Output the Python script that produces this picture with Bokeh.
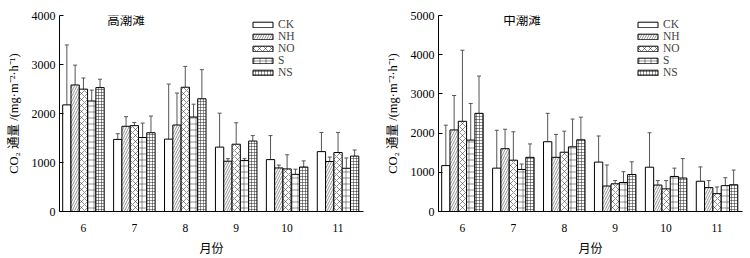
from bokeh.plotting import figure
from bokeh.models import Range1d, FixedTicker, ColumnDataSource, Whisker, TeeHead, Legend, LegendItem
from bokeh.core.properties import value
from bokeh.layouts import row
from bokeh.embed import file_html
from bokeh.resources import INLINE

months = ["6", "7", "8", "9", "10", "11"]
treatments = ["CK", "NH", "NO", "S", "NS"]

# 高潮滩 (high tidal flat): means and SD
high_CK = [2176, 1471, 1477, 1314, 1059, 1222]
high_CK_sd = [1223, 117, 1124, 693, 490, 392]
high_NH = [2582, 1739, 1765, 1026, 889, 1020]
high_NH_sd = [405, 196, 653, 52, 59, 91]
high_NO = [2497, 1752, 2536, 1373, 869, 1203]
high_NO_sd = [228, 65, 425, 437, 288, 411]
high_S = [2255, 1510, 1928, 1039, 758, 882]
high_S_sd = [222, 294, 262, 39, 105, 210]
high_NS = [2529, 1608, 2301, 1438, 908, 1131]
high_NS_sd = [170, 340, 594, 111, 125, 124]

# 中潮滩 (middle tidal flat): means and SD
mid_CK = [1171, 1106, 1780, 1260, 1130, 772]
mid_CK_sd = [1032, 967, 724, 667, 878, 366]
mid_NH = [2081, 1602, 1382, 650, 675, 610]
mid_NH_sd = [878, 496, 585, 537, 114, 179]
mid_NO = [2301, 1309, 1512, 707, 577, 455]
mid_NO_sd = [1813, 724, 537, 82, 212, 171]
mid_S = [1821, 1073, 1650, 740, 894, 659]
mid_S_sd = [935, 138, 708, 276, 212, 203]
mid_NS = [2504, 1382, 1829, 943, 854, 683]
mid_NS_sd = [951, 342, 578, 325, 496, 374]

high_means = [high_CK, high_NH, high_NO, high_S, high_NS]
high_sds = [high_CK_sd, high_NH_sd, high_NO_sd, high_S_sd, high_NS_sd]
mid_means = [mid_CK, mid_NH, mid_NO, mid_S, mid_NS]
mid_sds = [mid_CK_sd, mid_NH_sd, mid_NO_sd, mid_S_sd, mid_NS_sd]

hatches = [dict(hatch_pattern=" "),
           dict(hatch_pattern="/", hatch_scale=5),
           dict(hatch_pattern="x", hatch_scale=6),
           dict(hatch_pattern="+", hatch_scale=6),
           dict(hatch_pattern="+", hatch_scale=3)]

SERIF = "Liberation Serif, Noto Sans CJK SC"
CJK = "Noto Sans CJK SC, Liberation Serif"


def make_panel(title, means, sds, ymax, border_left, border_right, legend_x, title_x):
    p = figure(width=375, height=258, output_backend="svg", toolbar_location=None,
               x_range=Range1d(0.53, 6.5), y_range=Range1d(0, ymax),
               min_border_left=border_left, min_border_right=border_right,
               min_border_top=15, min_border_bottom=39)
    p.outline_line_color = None
    p.xgrid.visible = False
    p.ygrid.visible = False
    p.background_fill_color = "white"

    w = 0.163
    items = []
    for i, t in enumerate(treatments):
        off = (i - 2) * w
        xs = [k + 1 + off for k in range(len(months))]
        src = ColumnDataSource(dict(x=xs, top=means[i],
                                    upper=[m + s for m, s in zip(means[i], sds[i])]))
        r = p.vbar(x="x", top="top", width=w, source=src, fill_color="white",
                   line_color="black", line_width=1, hatch_color="#222222",
                   hatch_weight=0.5, **hatches[i])
        wh = Whisker(source=src, base="x", lower="top", upper="upper",
                     line_color="#555555", line_width=1,
                     upper_head=TeeHead(size=4, line_color="#555555", line_width=1),
                     lower_head=None)
        p.add_layout(wh)
        items.append(LegendItem(label=t, renderers=[r]))

    leg = Legend(items=items, location=(legend_x, 133), padding=0, margin=0, spacing=0,
                 glyph_width=25, glyph_height=7, label_height=12, label_standoff=3,
                 border_line_alpha=0, background_fill_alpha=0,
                 label_text_font=SERIF, label_text_font_size="11.5px")
    p.add_layout(leg)

    p.xaxis.ticker = FixedTicker(ticks=list(range(1, len(months) + 1)))
    p.xaxis.major_label_overrides = {k + 1: m for k, m in enumerate(months)}
    p.xaxis.major_tick_line_color = None
    p.xaxis.minor_tick_line_color = None
    p.xaxis.major_label_text_font = SERIF
    p.xaxis.major_label_text_font_size = "11.5px"
    p.xaxis.major_label_standoff = 6
    p.xaxis.axis_label = "月份"
    p.xaxis.axis_label_text_font = CJK
    p.xaxis.axis_label_text_font_style = "normal"
    p.xaxis.axis_label_text_font_size = "12px"
    p.xaxis.axis_label_standoff = 4

    p.yaxis.ticker = FixedTicker(ticks=list(range(0, ymax + 1, 1000)))
    p.yaxis.major_tick_in = 4
    p.yaxis.major_tick_out = 0
    p.yaxis.minor_tick_line_color = None
    p.yaxis.major_label_text_font = SERIF
    p.yaxis.major_label_text_font_size = "12px"
    p.yaxis.major_label_standoff = 4
    p.yaxis.axis_label = "CO₂ 通量 /(mg·m⁻²·h⁻¹)"
    p.yaxis.axis_label_text_font = SERIF
    p.yaxis.axis_label_text_font_style = "normal"
    p.yaxis.axis_label_text_font_size = "12.5px"
    p.yaxis.axis_label_standoff = 8

    for ax in (p.xaxis[0], p.yaxis[0]):
        ax.axis_line_color = "black"
        ax.axis_line_width = 1
        ax.major_label_text_color = "black"
        ax.axis_label_text_color = "black"

    p.text(x=[title_x], y=[ymax * 0.98], text=[title], text_font=value(CJK),
           text_font_size="12.5px", text_baseline="middle", text_align="left",
           text_color="black")
    return p


p1 = make_panel("高潮滩", high_means, high_sds, 4000, 59, 12, 191, 1.47)
p2 = make_panel("中潮滩", mid_means, mid_sds, 5000, 63, 8, 197, 1.80)

layout = row(p1, p2)
open("out.html", "w").write(file_html(layout, INLINE))
